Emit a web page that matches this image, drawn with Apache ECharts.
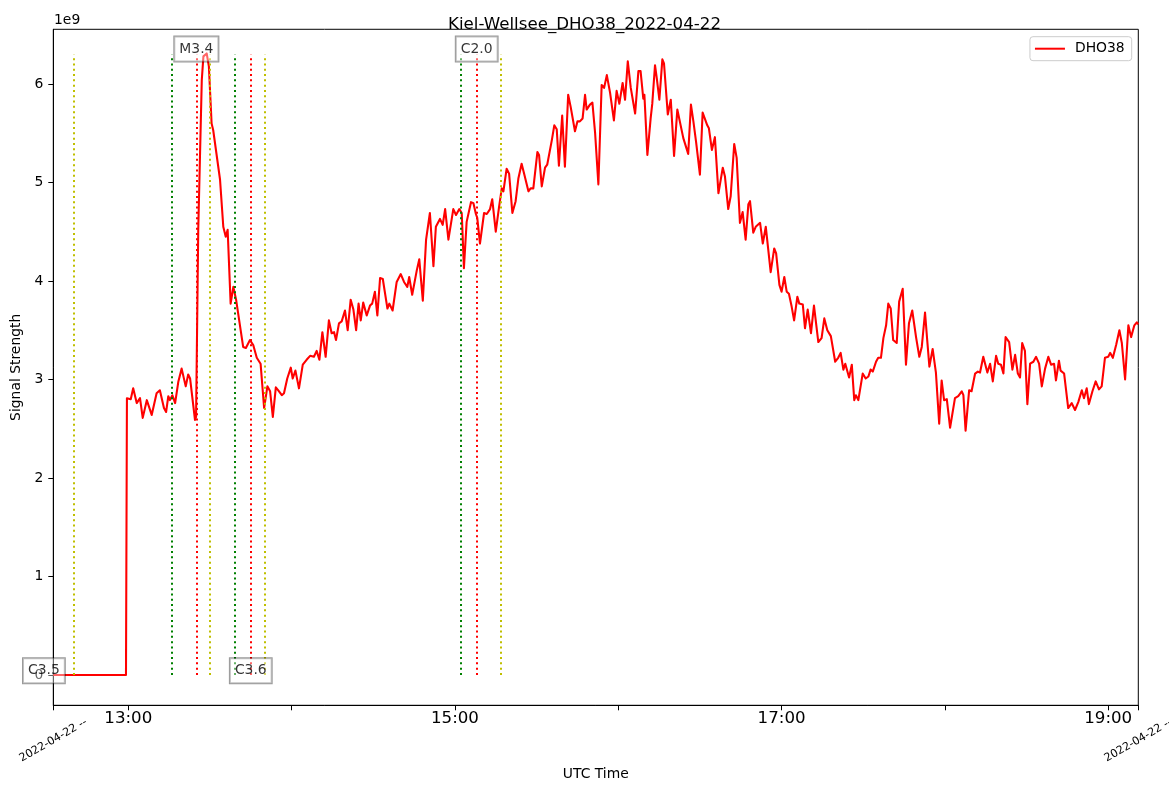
<!DOCTYPE html>
<html><head><meta charset="utf-8">
<script src="https://cdn.jsdelivr.net/npm/echarts@6/dist/echarts.min.js"></script>
<style>html,body{margin:0;padding:0;background:#fff}#c{width:1169px;height:792px}</style>
</head><body><div id="c"></div>
<script>
// time in minutes after 00:00 UTC, 2022-04-22
const utcMinutes = [
752.45, 779.15, 779.5, 780.9, 781.8, 783.1, 784.3, 785.3, 786.8, 788.6,
790.4, 791.6, 793.1, 793.9, 794.7, 795.3, 796.2, 797.2, 798.4, 799.6,
801.1, 802.0, 802.7, 804.5, 804.9, 805.7, 807.0, 807.6, 808.8, 809.6,
810.6, 811.2, 813.7, 814.9, 815.8, 816.5, 817.6, 818.6, 819.6, 822.2,
823.2, 824.7, 825.9, 827.2, 828.6,
829.9, 831.1, 832.1, 833.1, 834.2, 835.1, 836.4, 837.2, 838.4, 839.7,
840.4, 841.4, 842.7, 844.1, 845.5, 846.8, 848.2, 849.2, 850.2, 851.3,
852.5, 853.7, 854.7, 855.6, 856.3, 857.4, 858.4, 859.6, 860.6, 861.7,
862.7, 863.7, 864.6, 865.4, 866.3, 867.6, 868.8, 869.6, 870.6, 871.5,
872.5, 873.5, 874.0, 875.2, 875.9, 877.1, 878.6, 880.1, 881.3, 882.5,
883.2, 884.3, 886.0, 886.9, 888.2, 889.4, 890.8, 892.1, 893.0, 894.5,
895.5, 896.4, 897.6, 899.4, 900.4, 901.6, 902.5, 903.3, 904.3, 905.9,
906.8, 907.7, 908.2, 909.2, 910.7, 911.7, 912.9, 913.7, 915.0, 916.2,
917.2, 917.8, 919.0, 919.9, 921.1, 922.3, 923.3, 924.5, 925.4, 927.0,
927.8, 928.8, 930.3, 930.9, 931.9, 933.1, 933.9, 935.6, 936.5, 937.4,
938.2, 939.4, 940.4, 941.6, 942.5, 943.1, 944.1, 945.0, 945.9, 946.9,
947.8, 948.4, 949.6, 950.5, 951.5, 952.7, 953.9, 954.8, 955.8, 957.0,
958.4, 959.4, 960.4,
961.6, 962.5, 963.5, 964.6, 965.3, 966.2, 967.4, 968.2, 969.2, 969.6,
970.7, 971.9, 972.5, 973.5, 974.1, 975.1, 976.2, 976.8, 978.2, 979.3,
980.5, 981.7, 982.3, 983.9, 984.5, 985.7, 986.7, 987.6, 988.6, 989.0,
990.0, 991.0, 992.7, 993.3, 994.4, 995.5, 996.8, 997.4, 998.4, 999.2,
1000.4, 1001.3, 1002.6, 1003.5, 1004.7, 1005.7, 1006.8, 1007.8, 1008.4, 1009.6,
1010.5, 1011.2, 1012.1, 1013.1, 1014.2, 1016.0, 1017.3, 1018.0, 1019.2, 1020.0,
1021.0, 1021.9, 1022.7, 1023.7, 1024.6, 1025.8, 1026.5,
1027.8, 1028.6, 1029.6, 1030.8, 1031.9, 1033.5, 1034.7, 1035.7, 1036.8, 1038.1,
1038.8, 1039.7, 1040.8, 1041.7, 1042.7, 1043.4, 1043.9, 1044.8, 1045.8, 1046.7,
1047.3, 1048.2, 1049.8, 1050.9, 1051.9, 1052.7, 1053.5, 1054.7, 1055.5, 1056.5,
1057.4, 1058.4, 1059.2, 1060.1, 1061.0, 1062.3, 1063.2, 1064.5, 1065.7, 1066.8,
1068.0, 1069.4, 1070.6, 1071.5, 1072.7, 1073.5, 1074.3, 1075.5, 1076.7, 1077.9,
1078.8, 1079.7, 1080.7, 1081.9, 1083.7, 1084.9, 1086.2, 1086.8, 1087.6, 1088.9,
1089.8, 1091.1, 1092.1, 1092.9, 1094.1, 1095.6, 1096.6, 1097.6, 1098.8, 1099.6,
1100.6, 1101.5, 1102.3, 1103.6, 1104.8, 1105.8, 1106.8, 1107.6, 1108.4, 1109.4,
1110.3, 1111.3, 1112.5, 1113.5, 1114.6, 1115.6, 1116.8, 1118.0, 1119.0, 1120.1,
1120.8, 1121.9, 1122.5, 1123.8, 1125.3, 1126.6, 1127.8, 1129.0, 1130.3, 1131.1,
1132.1, 1132.9, 1134.2, 1135.4, 1136.6, 1137.6, 1138.8, 1140.0, 1140.7, 1141.7,
1142.9, 1144.1, 1145.0, 1146.2, 1147.4, 1148.4, 1149.6, 1150.5, 1151.0
];
// signal strength in units of 1e9
const signal = [
0, 0, 2.81, 2.80, 2.91, 2.76, 2.81, 2.61, 2.79, 2.64,
2.86, 2.89, 2.71, 2.67, 2.83, 2.79, 2.84, 2.76, 2.98, 3.11,
2.93, 3.05, 3.01, 2.59, 2.62, 4.52, 6.04, 6.28, 6.31, 6.18,
5.60, 5.53, 5.03, 4.55, 4.45, 4.52, 3.77, 3.94, 3.81, 3.33,
3.32, 3.40, 3.35, 3.22, 3.16,
2.71, 2.93, 2.88, 2.62, 2.92, 2.89, 2.84, 2.86, 3.01, 3.12,
3.01, 3.09, 2.91, 3.15, 3.20, 3.24, 3.23, 3.29, 3.20, 3.48,
3.23, 3.60, 3.47, 3.48, 3.40, 3.57, 3.59, 3.70, 3.50, 3.81,
3.71, 3.50, 3.77, 3.60, 3.78, 3.65, 3.75, 3.77, 3.89, 3.65,
4.03, 4.02, 4.01, 3.72, 3.77, 3.70, 3.99, 4.07, 3.99, 3.94,
4.04, 3.86, 4.11, 4.22, 3.80, 4.42, 4.69, 4.15, 4.55, 4.63,
4.57, 4.73, 4.42, 4.73, 4.67, 4.73, 4.69, 4.13, 4.60, 4.80,
4.79, 4.68, 4.64, 4.38, 4.69, 4.68, 4.73, 4.83, 4.50, 4.75,
4.94, 4.91, 5.14, 5.09, 4.69, 4.81, 5.04, 5.19, 5.09, 4.91,
4.94, 4.94, 5.31, 5.28, 4.96, 5.15, 5.18, 5.43, 5.58, 5.54,
5.17, 5.68, 5.16, 5.89, 5.77, 5.79, 5.52, 5.62, 5.62, 5.65,
5.89, 5.74, 5.79, 5.81, 5.50, 4.98, 5.99, 5.96, 6.09, 5.91,
5.63, 5.93, 5.80,
6.01, 5.84, 6.23, 5.96, 5.94, 5.70, 6.13, 6.13, 5.85, 5.89,
5.28, 5.65, 5.80, 6.19, 6.07, 5.84, 6.25, 6.21, 5.69, 5.84,
5.27, 5.74, 5.74, 5.45, 5.43, 5.29, 5.79, 5.62, 5.41, 5.43,
5.08, 5.71, 5.58, 5.55, 5.33, 5.46, 4.89, 4.88, 5.15, 5.06,
4.73, 4.86, 5.39, 5.25, 4.59, 4.70, 4.42, 4.78, 4.81, 4.49,
4.55, 4.54, 4.59, 4.38, 4.55, 4.09, 4.33, 4.28, 3.96, 3.89,
4.04, 3.89, 3.87, 3.74, 3.60, 3.84, 3.77,
3.76, 3.52, 3.71, 3.47, 3.75, 3.38, 3.42, 3.62, 3.50, 3.44,
3.42, 3.18, 3.22, 3.27, 3.10, 3.16, 3.16, 3.02, 3.15, 2.79,
2.84, 2.79, 3.06, 3.01, 3.03, 3.10, 3.08, 3.18, 3.22, 3.22,
3.42, 3.55, 3.77, 3.72, 3.40, 3.37, 3.79, 3.92, 3.15, 3.57,
3.70, 3.43, 3.23, 3.33, 3.68, 3.40, 3.13, 3.31, 3.07, 2.55,
2.99, 2.79, 2.80, 2.51, 2.81, 2.83, 2.88, 2.84, 2.48, 2.89,
2.88, 3.06, 3.08, 3.07, 3.23, 3.07, 3.16, 2.98, 3.24, 3.16,
3.15, 3.06, 3.43, 3.38, 3.10, 3.25, 3.06, 3.02, 3.37, 3.29,
2.75, 3.16, 3.18, 3.23, 3.16, 2.93, 3.11, 3.23, 3.15, 3.16,
2.99, 3.19, 3.09, 3.06, 2.71, 2.76, 2.69, 2.77, 2.89, 2.81,
2.91, 2.75, 2.88, 2.98, 2.90, 2.93, 3.22, 3.23, 3.27, 3.22,
3.35, 3.50, 3.37, 3.00, 3.55, 3.43, 3.55, 3.58, 3.56
];
// flare events (minutes after 00:00 UTC)
const flareClass = ['C3.5', 'M3.4', 'C3.6', 'C2.0'];
const flareStart = [null, 796, 819, 902];
const flarePeak  = [749, 805, 825, 908];
const flareEnd   = [760, 810, 830, 917];

const yTicks = [0, 1, 2, 3, 4, 5, 6];
const xLabelTicks = [780, 900, 1020, 1140];
const xMinorTicks = [840, 960, 1080];
const dateLabel = '2022-04-22 --';
const stationTitle = 'Kiel-Wellsee_DHO38_2022-04-22';
const seriesName = 'DHO38';

const XMIN = 752.45, XMAX = 1151.05, YMIN = -0.308, YMAX = 6.555;
const LINE_TOP = 6.3;
const FONT = 'DejaVu Sans';
const hhmm = m => { const h = Math.floor(m / 60), mm = Math.round(m - h * 60); return String(h).padStart(2, '0') + ':' + String(mm).padStart(2, '0'); };

const vline = (times, color) => times.filter(t => t !== null).map(t => [
  { coord: [t, 0], lineStyle: { color } }, { coord: [t, LINE_TOP] }
]);

const chart = echarts.init(document.getElementById('c'), null, { renderer: 'canvas' });
chart.setOption({
  animation: false,
  backgroundColor: '#fff',
  textStyle: { fontFamily: FONT },
  title: {
    text: stationTitle, left: 'center', top: 11,
    textStyle: { fontFamily: FONT, fontSize: 16.67, fontWeight: 'normal', color: '#000' }
  },
  grid: { left: 53.3, right: 30.7, top: 29.3, bottom: 86.7, show: true, borderColor: '#000', borderWidth: 1,
    containLabel: false, outerBoundsMode: 'none' },
  legend: {
    right: 37.3, top: 36.7,
    data: [{ name: seriesName, icon: 'rect' }],
    itemWidth: 30, itemHeight: 2,
    padding: [5, 7, 5, 5],
    borderColor: '#cccccc', borderWidth: 1, borderRadius: 3, backgroundColor: '#fff',
    textStyle: { fontFamily: FONT, fontSize: 13.9, color: '#000', padding: [0, 0, 0, 5] }
  },
  graphic: [{
    type: 'text', left: 54, top: 13,
    style: { text: '1e9', font: '13.9px "DejaVu Sans"', fill: '#000' }
  }],
  xAxis: [{
    type: 'value', min: XMIN, max: XMAX,
    name: 'UTC Time', nameLocation: 'middle', nameGap: 62,
    nameTextStyle: { fontFamily: FONT, fontSize: 13.9, color: '#000' },
    axisLine: { show: true, onZero: false, lineStyle: { color: '#000', width: 1 } },
    axisTick: { show: true, length: 5, lineStyle: { color: '#000', width: 1 },
      customValues: [XMIN].concat(xLabelTicks, xMinorTicks, [XMAX]) },
    axisLabel: { show: true, customValues: xLabelTicks, formatter: v => hhmm(v),
      fontFamily: FONT, fontSize: 16.67, color: '#000', margin: 5 },
    splitLine: { show: false }
  }, {
    type: 'value', min: XMIN, max: XMAX, position: 'bottom',
    axisLine: { show: false }, axisTick: { show: false }, splitLine: { show: false },
    axisLabel: { show: true, customValues: [XMIN, XMAX], formatter: () => dateLabel,
      rotate: 30, align: 'center', verticalAlign: 'middle', margin: 35,
      fontFamily: FONT, fontSize: 11.1, color: '#000' }
  }],
  yAxis: {
    type: 'value', min: YMIN, max: YMAX,
    name: 'Signal Strength', nameLocation: 'middle', nameGap: 25, nameRotate: 90,
    nameTextStyle: { fontFamily: FONT, fontSize: 13.9, color: '#000' },
    axisLine: { show: true, onZero: false, lineStyle: { color: '#000', width: 1 } },
    axisTick: { show: true, length: 5, customValues: yTicks, lineStyle: { color: '#000', width: 1 } },
    axisLabel: { show: true, customValues: yTicks, formatter: v => String(Math.round(v)),
      fontFamily: FONT, fontSize: 13.9, color: '#000', margin: 10 },
    splitLine: { show: false }
  },
  series: [
    {
      name: 'flare-lines', type: 'line', data: [], silent: true, z: 1,
      markLine: {
        silent: true, symbol: 'none', animation: false,
        label: { show: false },
        lineStyle: { type: [2, 3.3], width: 2 },
        data: [].concat(vline(flareStart, '#008000'), vline(flarePeak, '#ff0000'), vline(flareEnd, '#bfbf00'))
      }
    },
    {
      name: seriesName, type: 'line', z: 3,
      data: utcMinutes.map((t, i) => [t, signal[i]]),
      showSymbol: false, symbol: 'none', clip: true,
      lineStyle: { color: '#ff0000', width: 2.08, join: 'round' },
      itemStyle: { color: '#ff0000' }
    },
    {
      name: 'flare-labels', type: 'scatter', z: 5, clip: false, silent: true,
      symbolSize: 0,
      data: flarePeak.map((t, i) => ({ value: [t, i % 2 === 0 ? 0.043 : 6.355], name: flareClass[i] })),
      label: {
        show: true, position: 'inside', formatter: p => p.name,
        fontFamily: FONT, fontSize: 13.9, color: '#000', lineHeight: 15,
        backgroundColor: 'rgba(255,255,255,0.5)', borderColor: 'rgba(0,0,0,0.5)', borderWidth: 1,
        padding: [5, 5, 5, 5]
      }
    }
  ]
});
</script>
</body></html>
